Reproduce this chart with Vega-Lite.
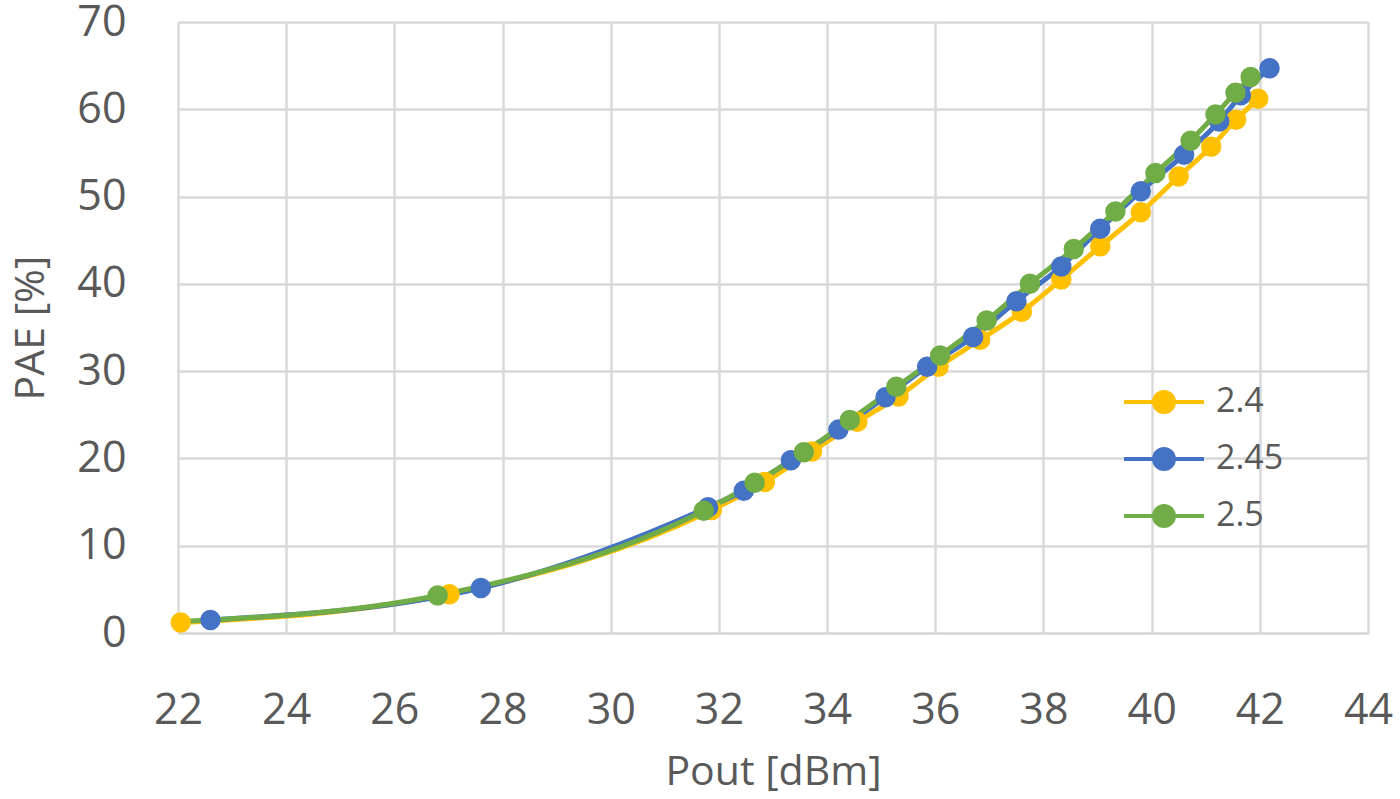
{
  "$schema": "https://vega.github.io/schema/vega-lite/v6.json",
  "width": 1190,
  "height": 611,
  "autosize": "none",
  "padding": {"left": 178, "top": 22, "right": 32, "bottom": 166},
  "background": "white",
  "config": {
    "font": "Open Sans",
    "view": {"stroke": null},
    "axis": {"gridColor": "#D9D9D9", "gridWidth": 2.5, "labelColor": "#595959", "titleColor": "#595959", "labelFontSize": 43, "titleFontSize": 41, "titleFontWeight": "normal", "ticks": false, "labelFont": "Open Sans", "titleFont": "Open Sans"}
  },
  "data": {"values": [
    {"s": "2.4", "x": 22.05, "y": 1.2},
    {"s": "2.4", "x": 27.02, "y": 4.45},
    {"s": "2.4", "x": 31.87, "y": 14.1},
    {"s": "2.4", "x": 32.85, "y": 17.3},
    {"s": "2.4", "x": 33.72, "y": 20.8},
    {"s": "2.4", "x": 34.56, "y": 24.2},
    {"s": "2.4", "x": 35.32, "y": 27.1},
    {"s": "2.4", "x": 36.06, "y": 30.5},
    {"s": "2.4", "x": 36.83, "y": 33.6},
    {"s": "2.4", "x": 37.6, "y": 36.8},
    {"s": "2.4", "x": 38.33, "y": 40.5},
    {"s": "2.4", "x": 39.05, "y": 44.3},
    {"s": "2.4", "x": 39.8, "y": 48.2},
    {"s": "2.4", "x": 40.5, "y": 52.3},
    {"s": "2.4", "x": 41.1, "y": 55.7},
    {"s": "2.4", "x": 41.56, "y": 58.8},
    {"s": "2.4", "x": 41.97, "y": 61.2},
    {"s": "2.45", "x": 22.6, "y": 1.5},
    {"s": "2.45", "x": 27.6, "y": 5.15},
    {"s": "2.45", "x": 31.8, "y": 14.4},
    {"s": "2.45", "x": 32.46, "y": 16.3},
    {"s": "2.45", "x": 33.33, "y": 19.8},
    {"s": "2.45", "x": 34.21, "y": 23.3},
    {"s": "2.45", "x": 35.08, "y": 27.0},
    {"s": "2.45", "x": 35.85, "y": 30.5},
    {"s": "2.45", "x": 36.7, "y": 33.9},
    {"s": "2.45", "x": 37.5, "y": 38.0},
    {"s": "2.45", "x": 38.33, "y": 42.0},
    {"s": "2.45", "x": 39.05, "y": 46.3},
    {"s": "2.45", "x": 39.8, "y": 50.6},
    {"s": "2.45", "x": 40.6, "y": 54.8},
    {"s": "2.45", "x": 41.25, "y": 58.6},
    {"s": "2.45", "x": 41.65, "y": 61.6},
    {"s": "2.45", "x": 42.18, "y": 64.7},
    {"s": "2.5", "x": 22.0, "y": 1.3},
    {"s": "2.5", "x": 26.8, "y": 4.3},
    {"s": "2.5", "x": 31.72, "y": 14.0},
    {"s": "2.5", "x": 32.66, "y": 17.2},
    {"s": "2.5", "x": 33.57, "y": 20.7},
    {"s": "2.5", "x": 34.42, "y": 24.4},
    {"s": "2.5", "x": 35.28, "y": 28.2},
    {"s": "2.5", "x": 36.09, "y": 31.8},
    {"s": "2.5", "x": 36.95, "y": 35.8},
    {"s": "2.5", "x": 37.75, "y": 40.0},
    {"s": "2.5", "x": 38.56, "y": 44.0},
    {"s": "2.5", "x": 39.33, "y": 48.3},
    {"s": "2.5", "x": 40.07, "y": 52.7},
    {"s": "2.5", "x": 40.72, "y": 56.4},
    {"s": "2.5", "x": 41.18, "y": 59.4},
    {"s": "2.5", "x": 41.55, "y": 61.9},
    {"s": "2.5", "x": 41.83, "y": 63.7}
  ]},
  "encoding": {
    "x": {"field": "x", "type": "quantitative", "scale": {"domain": [22, 44], "nice": false},
      "axis": {"title": "Pout [dBm]", "values": [22, 24, 26, 28, 30, 32, 34, 36, 38, 40, 42, 44], "labelPadding": 56, "titlePadding": 20, "domainColor": "#D9D9D9", "domainWidth": 2.5, "labelFlush": false}},
    "y": {"field": "y", "type": "quantitative", "scale": {"domain": [0, 70], "nice": false},
      "axis": {"title": "PAE [%]", "values": [0, 10, 20, 30, 40, 50, 60, 70], "labelPadding": 52, "titlePadding": 24, "domain": false}},
    "color": {"field": "s", "type": "nominal",
      "scale": {"domain": ["2.4", "2.45", "2.5"], "range": ["#FFC000", "#4472C4", "#70AD47"]},
      "legend": {"title": null, "orient": "none", "legendX": 964, "legendY": 358,
        "symbolType": "M-2,0H2M0.5,0A0.5,0.5,0,1,1,-0.5,0A0.5,0.5,0,1,1,0.5,0Z",
        "symbolSize": 1600, "symbolStrokeWidth": 4, "labelFontSize": 34, "labelColor": "#595959", "labelOffset": 30, "rowPadding": 17,
        "encode": {"symbols": {"update": {"fill": {"scale": "color", "field": "value"}, "stroke": {"scale": "color", "field": "value"}, "strokeWidth": {"value": 4}, "opacity": {"value": 1}}}}}}
  },
  "layer": [
    {"mark": {"type": "line", "interpolate": "monotone", "strokeWidth": 5}},
    {"transform": [{"filter": "datum.s != '2.5' || datum.x > 22.5"}],
     "mark": {"type": "point", "filled": true, "size": 420, "opacity": 1}}
  ]
}
